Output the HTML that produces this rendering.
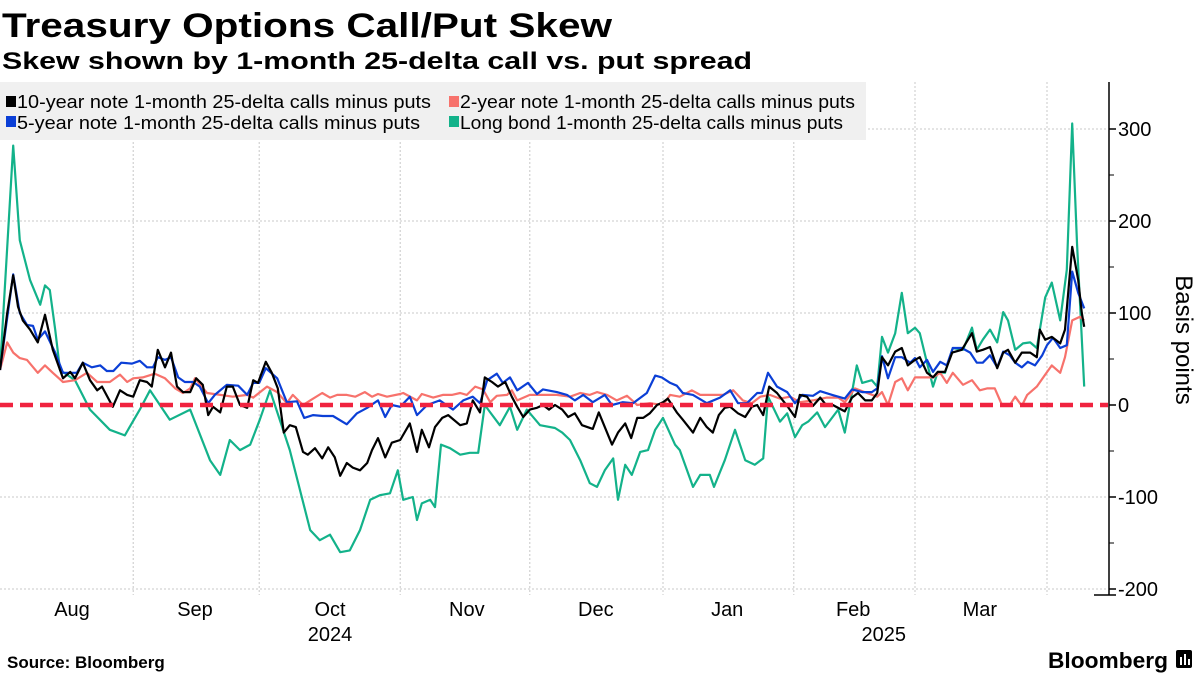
<!DOCTYPE html>
<html><head><meta charset="utf-8"><style>
html,body{margin:0;padding:0;background:#fff;}
svg{display:block;font-family:"Liberation Sans",sans-serif;}
</style></head><body>
<svg id="chart" width="1200" height="675" viewBox="0 0 1200 675" xmlns="http://www.w3.org/2000/svg">
<text x="2" y="37" font-size="34" font-weight="bold" textLength="610" lengthAdjust="spacingAndGlyphs">Treasury Options Call/Put Skew</text>
<text x="2" y="69" font-size="24" font-weight="bold" textLength="750" lengthAdjust="spacingAndGlyphs">Skew shown by 1-month 25-delta call vs. put spread</text>
<g id="grid"></g>
<g id="legend">
<rect x="0" y="82" width="866" height="58" fill="#f0f0f0"/>
<g><rect x="6" y="96" width="10" height="11" fill="#000"/><text x="17" y="108" font-size="18" textLength="414" lengthAdjust="spacingAndGlyphs">10-year note 1-month 25-delta calls minus puts</text></g>
<g><rect x="449" y="96" width="10" height="11" fill="#f7726c"/><text x="460" y="108" font-size="18" textLength="395" lengthAdjust="spacingAndGlyphs">2-year note 1-month 25-delta calls minus puts</text></g>
<g><rect x="6" y="116" width="10" height="11" fill="#0b3fd6"/><text x="17" y="129" font-size="18" textLength="403" lengthAdjust="spacingAndGlyphs">5-year note 1-month 25-delta calls minus puts</text></g>
<g><rect x="449" y="116" width="10" height="11" fill="#13b28a"/><text x="460" y="129" font-size="18" textLength="383" lengthAdjust="spacingAndGlyphs">Long bond 1-month 25-delta calls minus puts</text></g>
</g>
<g id="series"></g>
<g id="axes"></g>
<text transform="translate(1176,340) rotate(90)" text-anchor="middle" font-size="24">Basis points</text>
<text x="7" y="668" font-size="17" font-weight="bold">Source: Bloomberg</text>
<g><text x="1048" y="668" font-size="22" font-weight="bold" textLength="120" lengthAdjust="spacingAndGlyphs">Bloomberg</text><rect x="1176" y="650" width="16" height="18" rx="2" fill="#000"/><rect x="1180" y="657" width="2" height="8" fill="#fff"/><rect x="1184" y="654" width="2" height="11" fill="#fff"/><rect x="1188" y="659" width="2" height="6" fill="#fff"/></g>
</svg>
<script>
const monthLabels = ["Aug","Sep","Oct","Nov","Dec","Jan","Feb","Mar"];
const monthLabelDays = [12,32.5,55,77.8,99.3,121.2,142.2,163.3];
const monthStartDays = [22.2,43.2,66.7,88.3,110.5,132.3,152.5,174.5];
const yearLabels = ["2024","2025"];
const yearLabelDays = [55,147.3];
const yTicks = [-200,-100,0,100,200,300];
const yMinorTicks = [-150,-50,50,150,250];

const tenYear = [[0,38],[1.2,100],[2.2,141],[3,107],[3.8,92],[5,82],[6.3,68],[7.5,98],[8.8,60],[10.5,29],[11.7,36],[12.5,29],[13.8,46],[15,27],[16.2,16],[17,20],[18.8,-2],[20,16],[21.2,11],[22.2,9],[23.3,27],[24.5,25],[25.3,20],[26.3,60],[27.5,41],[28.5,57],[29.5,20],[30.5,14],[31.7,14],[32.7,29],[33.8,22],[34.7,-11],[35.5,-2],[36.7,-8],[37.8,20],[38.8,20],[40,0],[41.2,-3],[42.2,27],[43,24],[44.3,47],[45.3,35],[46.3,18],[47.3,-30],[48.3,-22],[49.3,-24],[50.5,-51],[51.3,-54],[52.5,-47],[53.7,-58],[54.7,-46],[55.8,-57],[56.7,-77],[57.8,-63],[58.8,-68],[60,-71],[61.2,-63],[62,-49],[63,-36],[64.2,-57],[65.3,-41],[66.7,-38],[68.3,-20],[69.5,-51],[70.3,-27],[71.5,-46],[72.5,-24],[73.7,-14],[74.7,-11],[76.7,-22],[77.8,-20],[78.8,5],[80,-8],[80.8,30],[82,25],[83,20],[84.2,25],[85.3,9],[86.2,-2],[87.2,-13],[88.3,-5],[89.5,-3],[90.5,0],[91.5,-5],[92.5,0],[93.7,-5],[94.7,-13],[95.8,-9],[97,-22],[98.8,-26],[99.8,-8],[100.8,-24],[102,-43],[103,-30],[104.2,-20],[105.2,-36],[106.2,-14],[107.2,-14],[108.3,-9],[109.5,0],[110.5,3],[111.3,7],[112.8,-8],[113.8,-16],[115.5,-30],[116.7,-14],[117.8,-24],[118.8,-30],[119.8,-11],[120.8,-3],[121.7,-2],[123,-9],[124.2,-13],[125.3,-2],[126.2,0],[127.2,-11],[128.2,20],[129.5,13],[131.3,-2],[132.5,-13],[133.3,11],[134.5,9],[135.5,-1],[136.7,8],[137.8,-1],[138.8,0],[140.8,-7],[142,8],[143,13],[144.2,5],[145.3,5],[146.2,13],[147,52],[148,43],[149.2,58],[150.3,62],[151.3,43],[152.5,49],[153.3,52],[154.5,35],[155.5,30],[156.3,36],[157.5,36],[158.7,57],[160.3,60],[162,78],[162.8,58],[163.8,60],[165,63],[166.2,40],[167.2,57],[168,60],[169.2,46],[170.3,57],[171.7,57],[172.8,52],[173.3,82],[174.2,71],[175.3,74],[176.7,67],[177.5,82],[178.7,172],[179.7,136],[180.3,100],[180.7,85]];

const twoYear = [[0,38],[1.2,68],[2.2,57],[3.3,51],[4.5,49],[6.3,35],[7.5,43],[8.8,35],[10.5,25],[12.5,27],[14.5,35],[16.2,25],[18.3,25],[20,33],[21.2,25],[22.2,29],[23.8,30],[25.8,34],[27.5,29],[29.2,18],[30.5,13],[31.7,18],[32.5,29],[34.5,13],[36.7,11],[38.8,9],[41.2,11],[42.2,8],[44.5,20],[46.2,14],[47.8,2],[48.8,11],[50.5,0],[51.7,5],[53.7,13],[55,8],[56.2,11],[57.8,11],[59.2,9],[60.8,14],[62,9],[63,12],[64.5,9],[66.7,12],[67.2,13],[69.5,5],[70.3,12],[72.2,8],[73.8,11],[75.3,11],[76.7,13],[77.8,11],[79.2,20],[80.5,17],[81.7,3],[82.8,10],[84.5,11],[85.3,16],[86.2,5],[88.3,11],[90.5,11],[92.8,11],[95,9],[96.7,13],[98.3,11],[99.5,14],[101.2,11],[102.8,5],[104.5,10],[106.2,0],[108.3,2],[110.5,0],[111.7,11],[113.3,9],[115.3,16],[116.7,11],[118.8,11],[120.5,11],[122.2,16],[123.8,5],[125.3,2],[126.7,9],[128.3,11],[130,7],[131.7,9],[133.3,3],[135.5,5],[137.8,8],[139.7,8],[140.8,3],[142.5,18],[144.5,13],[146.2,9],[147,14],[148,0],[149.2,25],[150.3,29],[151.3,16],[152.5,30],[154.5,30],[155.5,30],[156.7,35],[157.8,24],[158.8,35],[160.5,22],[162,27],[163.3,16],[164.5,18],[165.8,18],[167,0],[168.3,0],[169.2,9],[170.3,-1],[171.2,11],[172.8,20],[174.2,33],[175.3,43],[176.7,35],[177.5,52],[178.7,92],[180,96],[180.7,92]];

const fiveYear = [[0,38],[2.2,142],[3.3,100],[4.5,87],[5.5,86],[6.3,71],[7.5,80],[9.2,57],[10.5,35],[11.7,35],[12.8,35],[13.8,46],[15.3,41],[16.7,43],[17.8,37],[18.9,37],[20.2,46],[22,45],[23.3,48],[24.5,41],[25.5,41],[26.3,52],[27.5,49],[28.5,52],[29.7,30],[30.8,25],[32.2,25],[33.3,20],[34.7,2],[35.8,11],[37.8,22],[39.7,21],[41.2,11],[42.2,24],[43.2,24],[44.3,40],[46.2,29],[47.8,3],[49.5,4],[50.7,-14],[52.2,-11],[53.8,-12],[55.5,-12],[57.8,-21],[59.5,-9],[61.2,-3],[63,5],[64.2,-13],[65.3,0],[66.7,-2],[68.3,9],[69.5,-11],[71.2,0],[73.3,5],[75.5,-5],[77.2,5],[78.8,9],[80,2],[81.2,27],[82.8,34],[83.8,24],[85,30],[86.2,16],[88,24],[89.5,12],[90.5,17],[92.8,14],[94.5,11],[95.8,5],[97.2,11],[98.8,3],[100.8,11],[102,0],[103.8,3],[105.5,2],[107.8,13],[109.2,32],[110.3,30],[111.7,24],[112.8,21],[113.8,13],[115.5,11],[117.8,2],[120,8],[121.7,16],[123,2],[124.5,2],[126.2,13],[127,13],[128,35],[129.5,20],[131.2,14],[132.5,2],[133.7,11],[135.5,10],[136.7,15],[138.7,11],[140.8,7],[142,17],[143.7,14],[145.3,14],[146.2,18],[147,53],[148,29],[149.2,52],[150.3,52],[151.7,46],[152.5,51],[153.3,41],[154.5,49],[155.5,36],[156.7,47],[157.8,43],[158.8,62],[160.3,62],[161.7,57],[162.8,46],[163.8,46],[165,54],[166.2,41],[167.2,58],[168.3,54],[169.2,46],[170.3,41],[171.3,47],[172.5,43],[173.7,54],[174.5,65],[175.5,73],[176.7,62],[177.8,65],[178.7,145],[179.7,122],[180.7,105]];

const longBond = [[0,38],[2.2,282],[3.3,179],[5,136],[6.7,109],[7.5,130],[8.3,125],[9.2,82],[10,38],[12.5,27],[15,-5],[18.3,-27],[20.8,-33],[23.3,-5],[25,16],[28.3,-16],[31.7,-5],[35,-60],[36.7,-76],[38.3,-38],[40,-49],[41.7,-43],[43.3,-16],[45,16],[48.3,-49],[51.7,-136],[53.3,-147],[55,-141],[56.7,-160],[58.3,-158],[60,-136],[61.7,-103],[63.3,-98],[65,-96],[66.3,-71],[67.2,-103],[68.8,-100],[69.5,-125],[70.3,-107],[71.7,-103],[72.5,-111],[73.5,-43],[75,-47],[76.7,-54],[78.3,-52],[79.7,-52],[80.8,0],[81.7,-8],[83.3,-22],[85,-2],[86.2,-27],[87.8,-5],[90,-22],[92.5,-25],[93.7,-30],[95,-38],[96.7,-60],[98.3,-85],[99.5,-89],[100.8,-71],[102.2,-58],[103,-103],[104.2,-65],[105.3,-76],[106.7,-51],[108,-49],[109.2,-27],[110.5,-14],[112.5,-43],[113.3,-49],[115.5,-89],[116.7,-76],[118.3,-76],[119,-89],[120.8,-60],[122.5,-27],[124.2,-60],[125.8,-65],[127.2,-58],[128,9],[130,-18],[131.2,-9],[132.5,-35],[133.7,-22],[134.7,-18],[136.2,-8],[137.5,-24],[139.7,-5],[140.8,-30],[142.8,43],[143.7,24],[145.3,27],[146.2,20],[147,74],[148,57],[149.2,78],[150.3,122],[151.3,78],[152.5,84],[153.3,78],[154.5,46],[155.5,20],[156.3,36],[157.5,35],[158.8,62],[160.5,60],[162,84],[162.8,60],[163.8,71],[165,82],[166.2,68],[167.2,101],[168,92],[169.2,60],[170.5,67],[171.7,68],[172.8,62],[174.2,117],[175.3,133],[176.7,92],[177.8,147],[178.7,306],[179.5,176],[180.7,20]];

const NS = "http://www.w3.org/2000/svg";
function xScale(d){ return d * 6.0; }
function yScale(v){ return 405 - v * 0.92; }
function mk(tag, attrs, parent){
  const el = document.createElementNS(NS, tag);
  for (const k in attrs) el.setAttribute(k, attrs[k]);
  parent.appendChild(el);
  return el;
}
const grid = document.getElementById('grid');
const axes = document.getElementById('axes');
const series = document.getElementById('series');

yTicks.forEach(function(t){
  if (t === 0) return;
  const g = mk('line', {x1:0, x2:1108, y1:yScale(t), y2:yScale(t), stroke:'#c8c8c8', 'stroke-width':1, 'stroke-dasharray':'2,2'}, grid);
  
  
});
monthStartDays.forEach(function(d){
  const g = mk('line', {x1:xScale(d), x2:xScale(d), y1:82, y2:595, stroke:'#c8c8c8', 'stroke-width':1, 'stroke-dasharray':'2,2'}, grid);
  
  
});

function drawLine(data, color, name, width){
  const d = data.map(function(p, i){ return (i ? 'L' : 'M') + xScale(p[0]).toFixed(1) + ',' + yScale(p[1]).toFixed(1); }).join('');
  const path = mk('path', {d:d, fill:'none', stroke:color, 'stroke-width':width, 'stroke-linejoin':'round'}, series);
  
  
}
drawLine(longBond, '#13b28a', 'long-bond-line', 2.2);
drawLine(twoYear, '#f7726c', 'two-year-line', 2.2);
drawLine(fiveYear, '#0b3fd6', 'five-year-line', 2.2);
drawLine(tenYear, '#000000', 'ten-year-line', 2.2);

const zero = mk('line', {x1:0, x2:1108, y1:yScale(0), y2:yScale(0), stroke:'#f0233f', 'stroke-width':4.5, 'stroke-dasharray':'13,7'}, series);



const axisLine = mk('line', {x1:1109, x2:1109, y1:82, y2:595, stroke:'#000', 'stroke-width':1.5}, axes);


const xAxisStub = mk('line', {x1:1094, x2:1116, y1:595, y2:595, stroke:'#000', 'stroke-width':1.5}, axes);


yTicks.forEach(function(t){
  const tk = mk('line', {x1:1109, x2:1116, y1:yScale(t), y2:yScale(t), stroke:'#000', 'stroke-width':1.5}, axes);
  
  
  const lb = mk('text', {x:1118, y:yScale(t) + 7, 'font-size':20}, axes);
  lb.textContent = String(t);
  
  
});
yMinorTicks.forEach(function(t){
  const tk = mk('line', {x1:1109, x2:1114, y1:yScale(t), y2:yScale(t), stroke:'#000', 'stroke-width':1}, axes);
  
  
});
monthLabels.forEach(function(m, i){
  const lb = mk('text', {x:xScale(monthLabelDays[i]), y:616, 'font-size':20, 'text-anchor':'middle'}, axes);
  lb.textContent = m;
  
  
});
yearLabels.forEach(function(yv, i){
  const lb = mk('text', {x:xScale(yearLabelDays[i]), y:641, 'font-size':20, 'text-anchor':'middle'}, axes);
  lb.textContent = yv;
  
  
});
</script>
</body></html>
